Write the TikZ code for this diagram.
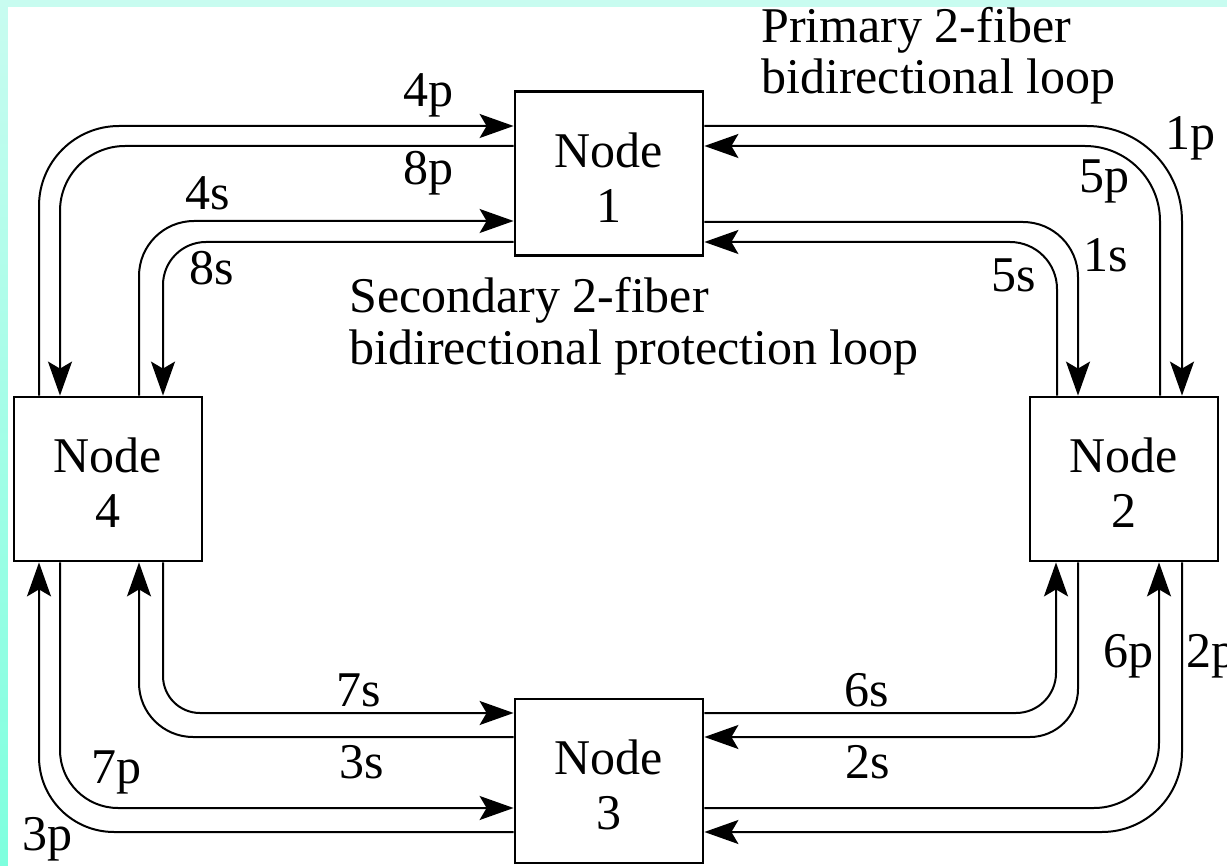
\documentclass[tikz,border=0pt]{standalone}
\usepackage{fontspec}
\setmainfont{Liberation Serif}
\usetikzlibrary{arrows.meta}
\definecolor{framelight}{RGB}{200,252,240}
\definecolor{framedark}{RGB}{126,255,222}
\newcommand{\toppad}{\rule{0pt}{43pt}}
\begin{document}
\begin{tikzpicture}[x=1pt,y=-1pt,
  bigfont/.style={font=\fontsize{50}{55}\selectfont},
  box/.style={draw, line width=2.8pt, minimum width=188pt, minimum height=164pt,
    inner sep=0pt, align=center, bigfont},
  lbl/.style={anchor=base, inner sep=0pt, bigfont},
  ttl/.style={anchor=base west, inner sep=0pt, bigfont},
  ln/.style={line width=2pt},
  arr/.style={-{Stealth[length=34pt,width=24pt,inset=7pt]}},
]
\useasboundingbox (0,0) rectangle (1227,866);
% frame
\fill[framelight] (0,0) rectangle (1227,7);
\begin{scope}[y=1pt]
  \shade[top color=framelight, bottom color=framedark] (0,0) rectangle (8,-866);
\end{scope}
\fill[white] (8,7) rectangle (1227,866);

% nodes
\node[box] (n1) at (609,173.5) {\toppad Node\\1};
\node[box] (n2) at (1124,479) {\toppad Node\\2};
\node[box] (n3) at (609,781) {\toppad Node\\3};
\node[box] (n4) at (108,479) {\toppad Node\\4};

% top-left
\draw[ln,arr,rounded corners=80pt] (n4.north -| 39,0) |- (n1.west |- 0,126);
\draw[ln,arr,rounded corners=65pt] (n1.west |- 0,146) -| (n4.north -| 60,0);
\draw[ln,arr,rounded corners=55pt] (n4.north -| 139,0) |- (n1.west |- 0,221);
\draw[ln,arr,rounded corners=43pt] (n1.west |- 0,242) -| (n4.north -| 163,0);
% top-right
\draw[ln,arr,rounded corners=95pt] (n1.east |- 0,126) -| (n2.north -| 1182,0);
\draw[ln,arr,rounded corners=75pt] (n2.north -| 1160,0) |- (n1.east |- 0,146);
\draw[ln,arr,rounded corners=55pt] (n1.east |- 0,222) -| (n2.north -| 1078,0);
\draw[ln,arr,rounded corners=47pt] (n2.north -| 1057,0) |- (n1.east |- 0,242);
% bottom-left
\draw[ln,arr,rounded corners=37pt] (n4.south -| 163,0) |- (n3.west |- 0,713);
\draw[ln,arr,rounded corners=54pt] (n3.west |- 0,737) -| (n4.south -| 139,0);
\draw[ln,arr,rounded corners=58pt] (n4.south -| 60,0) |- (n3.west |- 0,808);
\draw[ln,arr,rounded corners=75pt] (n3.west |- 0,832) -| (n4.south -| 39,0);
% bottom-right
\draw[ln,arr,rounded corners=40pt] (n3.east |- 0,713) -| (n2.south -| 1056,0);
\draw[ln,arr,rounded corners=48pt] (n2.south -| 1078,0) |- (n3.east |- 0,737);
\draw[ln,arr,rounded corners=65pt] (n3.east |- 0,808) -| (n2.south -| 1159,0);
\draw[ln,arr,rounded corners=80pt] (n2.south -| 1182,0) |- (n3.east |- 0,832);

% fiber labels
\node[lbl] (l4p) at (428,107) {4p};
\node[lbl] (l8p) at (428,185) {8p};
\node[lbl] (l4s) at (208,210) {4s};
\node[lbl] (l8s) at (212,285) {8s};
\node[lbl] (l1p) at (1190,150) {1p};
\node[lbl] (l5p) at (1104,193) {5p};
\node[lbl] (l1s) at (1106,272) {1s};
\node[lbl] (l5s) at (1014,292) {5s};
\node[lbl] (l6p) at (1128,667) {6p};
\node[lbl] (l2p) at (1211,667) {2p};
\node[lbl] (l7p) at (116,783) {7p};
\node[lbl] (l3p) at (47,850) {3p};
\node[lbl] (l7s) at (359,706) {7s};
\node[lbl] (l3s) at (362,778) {3s};
\node[lbl] (l6s) at (867,706) {6s};
\node[lbl] (l2s) at (868,778) {2s};

% loop titles
\node[ttl] (pt1) at (761,43) {Primary 2-fiber};
\node[ttl] (pt2) at (761,94) {bidirectional loop};
\node[ttl] (st1) at (349,313) {Secondary 2-fiber};
\node[ttl] (st2) at (349,365) {bidirectional protection loop};
\end{tikzpicture}
\end{document}
